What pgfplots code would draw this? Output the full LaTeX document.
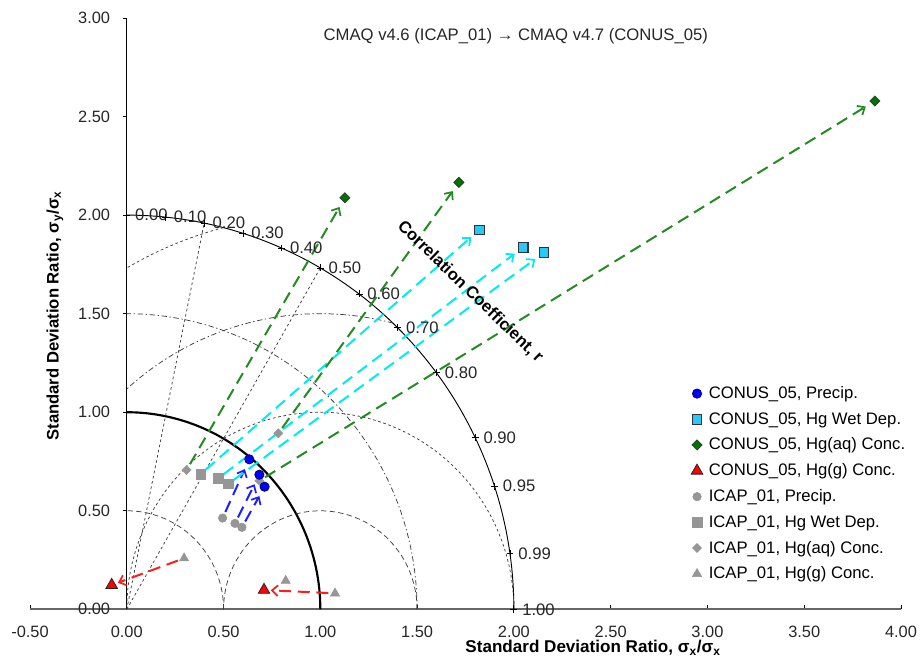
\documentclass[border=0pt]{standalone}
\usepackage{fontspec}
\setmainfont{Liberation Sans}
\usepackage{pgfplots}
\pgfplotsset{compat=1.18}
\usetikzlibrary{arrows.meta}
\definecolor{mBlue}{RGB}{0,0,255}
\definecolor{lBlue}{RGB}{30,30,255}
\definecolor{mCyan}{RGB}{40,200,250}
\definecolor{lCyan}{RGB}{0,235,240}
\definecolor{mGreen}{RGB}{0,115,0}
\definecolor{lGreen}{RGB}{34,139,34}
\definecolor{mRed}{RGB}{255,0,0}
\definecolor{lRed}{RGB}{250,30,30}
\definecolor{mGray}{RGB}{150,150,150}
\definecolor{gGuide}{RGB}{60,60,60}
\tikzset{
  guide/.style={gGuide, line width=0.55pt, dash pattern=on 2pt off 2pt},
  guideB/.style={gGuide, line width=0.55pt, dash pattern=on 4pt off 2.5pt},
  guideC/.style={gGuide, line width=0.55pt, dash pattern=on 4pt off 2pt on 1pt off 2pt},
  arr/.style={line width=1.5pt, dash pattern=on 9pt off 5pt, shorten >=8pt, shorten <=5pt,
     -{Straight Barb[length=4.5pt,width=8pt,line width=1.3pt]}},
}
\begin{document}
\begin{tikzpicture}
\begin{axis}[
  at={(0,0)}, anchor=south west,
  scale only axis, width=653.25pt, height=443.5pt,
  xmin=-0.5, xmax=4.0, ymin=0, ymax=3.0,
  axis x line=bottom, axis y line=center,
  x axis line style={-, draw=black!60, line width=1.5pt},
  y axis line style={-, draw=black, line width=0.8pt},
  xtick={-0.5,0,0.5,1,1.5,2,2.5,3,3.5,4},
  ytick={0,0.5,1,1.5,2,2.5,3},
  hide obscured x ticks=false, hide obscured y ticks=false,
  minor tick num=0,
  xtick align=inside, ytick align=outside,
  major tick length=3pt,
  tick style={black, line width=0.6pt},
  scaled ticks=false,
  /pgf/number format/.cd, fixed, fixed zerofill, precision=2, assume math mode=true,
  /pgfplots/.cd,
  tick label style={font=\fontsize{12.3}{14}\selectfont, text=black!85},
  xticklabel style={yshift=-9pt},
  yticklabel style={xshift=-6pt},
  clip=false,
  legend style={draw=none, fill=none, at={(axis cs:2.915,1.145)}, anchor=north west,
     font=\fontsize{12.5}{14}\selectfont, row sep=4.85pt, inner sep=0pt,
     /tikz/every odd column/.append style={column sep=2.5pt}},
  legend cell align=left,
  legend image code/.code={\draw[#1] plot coordinates {(3pt,0pt)};},
]
% ---- guides: standard deviation arcs (centred at origin)
\addplot[forget plot, guideB, domain=0:90, samples=40] ({0.5*cos(x)},{0.5*sin(x)});
\addplot[forget plot, guideC, domain=0:90, samples=60] ({1.5*cos(x)},{1.5*sin(x)});
\addplot[forget plot, black, line width=1.6pt, domain=0:90, samples=60] ({cos(x)},{sin(x)});
\addplot[forget plot, black, line width=0.7pt, domain=0:90, samples=90] ({2*cos(x)},{2*sin(x)});
% ---- guides: centred RMS difference arcs (centred at 1,0)
\addplot[forget plot, guideB, domain=0:180, samples=50] ({1+0.5*cos(x)},{0.5*sin(x)});
\addplot[forget plot, guide, domain=0:180, samples=70] ({1+cos(x)},{sin(x)});
\addplot[forget plot, guideC, domain=75.5:131.8, samples=40] ({1+1.5*cos(x)},{1.5*sin(x)});
\addplot[forget plot, guide, domain=104.5:120, samples=20] ({1+2*cos(x)},{2*sin(x)});
% ---- radial correlation lines
\addplot[forget plot, guide] coordinates {(0,0) (0.4,1.95959)};
\addplot[forget plot, guide] coordinates {(0,0) (1.0,1.73205)};
% ---- correlation ticks and labels on outer arc
\addplot[forget plot, only marks, mark=+, mark size=2.6pt, mark options={black, line width=0.6pt},
  nodes near coords, point meta=explicit symbolic, nodes near coords align=horizontal,
  every node near coord/.append style={anchor=west, xshift=6pt, inner sep=0pt,
     font=\fontsize{12.5}{14}\selectfont, text=black!85}]
  coordinates {
  (0,2)[0.00] (0.2,1.98997)[0.10] (0.4,1.95959)[0.20] (0.6,1.90788)[0.30]
  (0.8,1.83303)[0.40] (1.0,1.73205)[0.50] (1.2,1.6)[0.60] (1.4,1.42829)[0.70]
  (1.6,1.2)[0.80] (1.8,0.87178)[0.90] (1.9,0.62450)[0.95] (1.98,0.28213)[0.99]
  (2,0)[1.00]};
% ---- arrows ICAP_01 -> CONUS_05
\addplot[forget plot, arr, lBlue] coordinates {(0.495,0.463) (0.633,0.761)};
\addplot[forget plot, arr, lBlue] coordinates {(0.559,0.436) (0.685,0.683)};
\addplot[forget plot, arr, lBlue] coordinates {(0.595,0.416) (0.712,0.622)};
\addplot[forget plot, arr, lCyan] coordinates {(0.382,0.686) (1.821,1.924)};
\addplot[forget plot, arr, lCyan] coordinates {(0.473,0.665) (2.048,1.837)};
\addplot[forget plot, arr, lCyan] coordinates {(0.524,0.636) (2.155,1.809)};
\addplot[forget plot, arr, lGreen] coordinates {(0.309,0.707) (1.127,2.088)};
\addplot[forget plot, arr, lGreen] coordinates {(0.783,0.893) (1.716,2.166)};
\addplot[forget plot, arr, lGreen] coordinates {(0.685,0.652) (3.865,2.579)};
\addplot[forget plot, arr, lRed, shorten >=5pt] coordinates {(0.296,0.259) (-0.078,0.123)};
\addplot[forget plot, arr, lRed, shorten >=5pt] coordinates {(1.076,0.081) (0.709,0.098)};
% ---- ICAP_01 points
\addplot[forget plot, only marks, mark=*, mark size=3.2pt, mark options={fill=mGray, draw=mGray}]
  coordinates {(0.495,0.463) (0.559,0.436) (0.595,0.416)};
\addplot[forget plot, only marks, mark=square*, mark size=3.6pt, mark options={fill=mGray, draw=mGray}]
  coordinates {(0.382,0.686) (0.473,0.665) (0.524,0.636)};
\addplot[forget plot, only marks, mark=square*, mark size=2.4pt, mark options={fill=mGray, draw=mGray, rotate=45}]
  coordinates {(0.309,0.707) (0.783,0.893) (0.685,0.652)};
\addplot[forget plot, only marks, mark=triangle*, mark size=4pt, mark options={fill=mGray, draw=mGray}]
  coordinates {(0.296,0.259) (0.821,0.145) (1.076,0.081)};
% ---- CONUS_05 points
\addplot[forget plot, only marks, mark=*, mark size=3.5pt, mark options={fill=mBlue, draw=black!70!blue, line width=0.5pt}]
  coordinates {(0.633,0.761) (0.685,0.683) (0.712,0.622)};
\addplot[forget plot, only marks, mark=square*, mark size=3.6pt, mark options={fill=mCyan, draw=black!80, line width=0.8pt}]
  coordinates {(1.821,1.924) (2.048,1.837) (2.155,1.809)};
\addplot[forget plot, only marks, mark=square*, mark size=2.7pt, mark options={fill=mGreen, draw=black!80, line width=0.5pt, rotate=45}]
  coordinates {(1.127,2.088) (1.716,2.166) (3.865,2.579)};
\addplot[forget plot, only marks, mark=triangle*, mark size=5pt, mark options={fill=mRed, draw=black!85, line width=0.6pt}]
  coordinates {(-0.078,0.123) (0.709,0.098)};
% ---- legend
\addlegendimage{only marks, mark=*, mark size=3.5pt, mark options={fill=mBlue, draw=black!70!blue, line width=0.5pt}}
\addlegendentry{CONUS\_05, Precip.}
\addlegendimage{only marks, mark=square*, mark size=3.6pt, mark options={fill=mCyan, draw=black!80, line width=0.8pt}}
\addlegendentry{CONUS\_05, Hg Wet Dep.}
\addlegendimage{only marks, mark=square*, mark size=2.7pt, mark options={fill=mGreen, draw=black!80, line width=0.5pt, rotate=45}}
\addlegendentry{CONUS\_05, Hg(aq) Conc.}
\addlegendimage{only marks, mark=triangle*, mark size=5pt, mark options={fill=mRed, draw=black!85, line width=0.6pt}}
\addlegendentry{CONUS\_05, Hg(g) Conc.}
\addlegendimage{only marks, mark=*, mark size=3.2pt, mark options={fill=mGray, draw=mGray}}
\addlegendentry{ICAP\_01, Precip.}
\addlegendimage{only marks, mark=square*, mark size=3.6pt, mark options={fill=mGray, draw=mGray}}
\addlegendentry{ICAP\_01, Hg Wet Dep.}
\addlegendimage{only marks, mark=square*, mark size=2.4pt, mark options={fill=mGray, draw=mGray, rotate=45}}
\addlegendentry{ICAP\_01, Hg(aq) Conc.}
\addlegendimage{only marks, mark=triangle*, mark size=4pt, mark options={fill=mGray, draw=mGray}}
\addlegendentry{ICAP\_01, Hg(g) Conc.}
% ---- texts
\node[font=\fontsize{12.5}{14}\selectfont, text=black!85] at (axis cs:2.01,2.91)
  {CMAQ v4.6 (ICAP\_01) → CMAQ v4.7 (CONUS\_05)};
\node[font=\bfseries\fontsize{12.5}{14}\selectfont, rotate=-44] at (axis cs:1.775,1.61)
  {Correlation Coefficient, r};
\node[font=\bfseries\fontsize{12.8}{14}\selectfont] at (axis cs:2.409,-0.196)
  {Standard Deviation Ratio, σ\textsubscript{x}/σ\textsubscript{x}};
\node[font=\bfseries\fontsize{12.5}{14}\selectfont, rotate=90] at (axis cs:-0.371,1.488)
  {Standard Deviation Ratio, σ\textsubscript{y}/σ\textsubscript{x}};
\end{axis}
\pgfresetboundingbox
\path[use as bounding box] (-22.5pt,-38pt) rectangle (669pt,457pt);
\end{tikzpicture}
\end{document}
